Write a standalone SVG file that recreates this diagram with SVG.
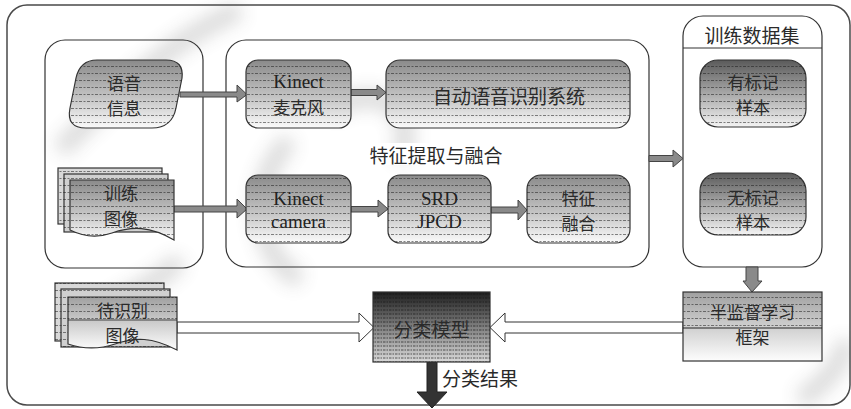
<svg xmlns="http://www.w3.org/2000/svg" width="851" height="409" viewBox="0 0 851 409">
<defs>
<linearGradient id="g1" x1="0" y1="0" x2="0" y2="1">
<stop offset="0" stop-color="#8a8a8a"/><stop offset="0.55" stop-color="#c4c4c4"/><stop offset="1" stop-color="#fbfbfb"/>
</linearGradient>
<linearGradient id="g2" x1="0" y1="0" x2="0" y2="1">
<stop offset="0" stop-color="#5a5a5a"/><stop offset="0.5" stop-color="#a8a8a8"/><stop offset="1" stop-color="#f4f4f4"/>
</linearGradient>
<linearGradient id="g3" x1="0" y1="0" x2="0" y2="1">
<stop offset="0" stop-color="#1e1e1e"/><stop offset="0.5" stop-color="#808080"/><stop offset="1" stop-color="#d8d8d8"/>
</linearGradient>
<linearGradient id="g4" x1="0" y1="0" x2="0" y2="1">
<stop offset="0" stop-color="#a0a0a0"/><stop offset="1" stop-color="#fdfdfd"/>
</linearGradient>
<pattern id="lines" width="8" height="7" patternUnits="userSpaceOnUse">
<line x1="0" y1="3.5" x2="8" y2="3.5" stroke="#1a1a1a" stroke-width="0.7" stroke-dasharray="2 1.5"/>
</pattern>
<pattern id="lines2" width="6" height="4" patternUnits="userSpaceOnUse">
<line x1="0" y1="2" x2="6" y2="2" stroke="#111" stroke-width="0.8" stroke-dasharray="1.5 1"/>
</pattern>
<filter id="blur" x="-50%" y="-50%" width="200%" height="200%"><feGaussianBlur stdDeviation="9"/></filter>
<style>
.frame{fill:none;stroke:#4a4a4a;stroke-width:1.5}
.box{fill:none;stroke:#333;stroke-width:1.2}
.node{stroke:#333;stroke-width:1.2}
.tex{fill:url(#lines);stroke:none;opacity:0.75}
.t{font-family:"Liberation Serif","Noto Sans CJK SC",serif;font-size:19px;fill:#222;text-anchor:middle;dominant-baseline:central}
.c{font-family:"Noto Sans CJK SC","Liberation Sans",sans-serif;font-size:17px;fill:#2a2a2a;text-anchor:middle;dominant-baseline:central}
.big{font-size:19px}
.arr{fill:#8a8a8a;stroke:#444;stroke-width:1}
.hol{fill:#fff;stroke:#333;stroke-width:1}
.dark{fill:#333;stroke:#222;stroke-width:1}
</style>
</defs>
<rect width="851" height="409" fill="#fff"/>
<g id="watermark" opacity="0.22" filter="url(#blur)" fill="none" stroke="#555" stroke-width="18">
<path d="M60,150 C120,90 170,40 240,10"/>
<path d="M290,140 C250,180 250,250 300,280"/>
<path d="M330,110 C380,80 420,110 400,160"/>
<path d="M80,330 C110,300 150,290 180,260"/>
<path d="M800,400 C830,380 845,360 845,340"/>
</g>
<rect class="frame" x="7" y="5" width="843" height="400" rx="20"/>
<g id="input-box"><rect class="box" x="45" y="40" width="158" height="228" rx="20"/></g>
<g id="feature-box">
<rect class="box" x="226" y="40" width="423" height="227" rx="20"/>
<rect x="362" y="143" width="148" height="22" fill="#fff"/>
<text class="c big" x="436" y="154">特征提取与融合</text>
</g>
<g id="dataset-box">
<rect class="box" x="683" y="16" width="139" height="251" rx="20"/>
<line x1="683" y1="48" x2="822" y2="48" stroke="#333" stroke-width="1.2"/>
<text class="c big" x="752" y="34">训练数据集</text>
</g>
<g id="connectors">
<polygon class="arr" points="180,92 237,92 237,85 247,94.5 237,102 237,97 180,97"/>
<polygon class="arr" points="174,206 237,206 237,199 247,209 237,218 237,212 174,212"/>
<polygon class="arr" points="351,89.5 377,89.5 377,85 386,92.5 377,100 377,95.5 351,95.5"/>
<polygon class="arr" points="351,206.5 378,206.5 378,200 388,209 378,217 378,212 351,212"/>
<polygon class="arr" points="491,207 518,207 518,200 527,210 518,220 518,213 491,213"/>
<polygon class="arr" points="649,155.5 673,155.5 673,150 683,158.5 673,167 673,161.5 649,161.5"/>
<polygon class="arr" points="746,267 758,267 758,281 762,281 752,292 743,281 746,281"/>
<polygon class="hol" points="177,322 359,322 359,313 374,327.5 359,342 359,333 177,333"/>
<polygon class="hol" points="683,322 505,322 505,313 490,327.5 505,342 505,333 683,333"/>
<polygon class="dark" points="427,362 437,362 437,392 447,392 432,408 417,392 427,392"/>
<text class="c big" x="480" y="377">分类结果</text>
</g>
<g id="speech">
<path class="node" fill="url(#g1)" d="M97,60 L166,60 Q184,60 182,78 L176,108 Q172,128 152,128 L86,128 Q66,128 70,108 L76,78 Q80,60 97,60 Z"/>
<path class="tex" d="M97,60 L166,60 Q184,60 182,78 L176,108 Q172,128 152,128 L86,128 Q66,128 70,108 L76,78 Q80,60 97,60 Z"/>
<text class="c" x="124" y="82">语音</text>
<text class="c" x="124" y="107">信息</text>
</g>
<g id="train-images">
<rect class="node" fill="#d8d8d8" x="58" y="168" width="104" height="56"/>
<rect class="tex" x="58" y="168" width="104" height="56"/>
<rect class="node" fill="#d0d0d0" x="64" y="174" width="104" height="58"/>
<rect class="tex" x="64" y="174" width="104" height="58"/>
<path class="node" fill="url(#g1)" d="M70,180 L174,180 L174,240 C150,226 132,226 112,233 C95,239 82,236 70,230 Z"/>
<path class="tex" d="M70,180 L174,180 L174,240 C150,226 132,226 112,233 C95,239 82,236 70,230 Z"/>
<text class="c" x="121" y="192">训练</text>
<text class="c" x="121" y="217">图像</text>
</g>
<g id="kinect-mic">
<rect class="node" fill="url(#g1)" x="246" y="60" width="105" height="68" rx="12"/>
<rect class="tex" x="246" y="60" width="105" height="68" rx="12"/>
<text class="t" x="298.5" y="81">Kinect</text>
<text class="c" x="298.5" y="106">麦克风</text>
</g>
<g id="asr">
<rect class="node" fill="url(#g1)" x="386" y="60" width="244" height="68" rx="14"/>
<rect class="tex" x="386" y="60" width="244" height="68" rx="14"/>
<text class="c big" x="509" y="95">自动语音识别系统</text>
</g>
<g id="kinect-camera">
<rect class="node" fill="url(#g1)" x="246" y="175" width="105" height="68" rx="12"/>
<rect class="tex" x="246" y="175" width="105" height="68" rx="12"/>
<text class="t" x="298.5" y="198">Kinect</text>
<text class="t" x="298.5" y="221">camera</text>
</g>
<g id="srd-jpcd">
<rect class="node" fill="url(#g1)" x="388" y="175" width="103" height="68" rx="12"/>
<rect class="tex" x="388" y="175" width="103" height="68" rx="12"/>
<text class="t" x="439.5" y="198">SRD</text>
<text class="t" x="439.5" y="221">JPCD</text>
</g>
<g id="fusion">
<rect class="node" fill="url(#g1)" x="527" y="175" width="103" height="68" rx="14"/>
<rect class="tex" x="527" y="175" width="103" height="68" rx="14"/>
<text class="c" x="578.5" y="197">特征</text>
<text class="c" x="578.5" y="222">融合</text>
</g>
<g id="labeled">
<rect class="node" fill="url(#g2)" x="700" y="60" width="106" height="67" rx="18"/>
<rect class="tex" x="700" y="60" width="106" height="67" rx="18"/>
<text class="c" x="753" y="81">有标记</text>
<text class="c" x="753" y="106">样本</text>
</g>
<g id="unlabeled">
<rect class="node" fill="url(#g2)" x="700" y="173" width="106" height="62" rx="18"/>
<rect class="tex" x="700" y="173" width="106" height="62" rx="18"/>
<text class="c" x="753" y="196">无标记</text>
<text class="c" x="753" y="221">样本</text>
</g>
<g id="semi-supervised">
<rect class="node" fill="url(#g4)" x="683" y="292" width="139" height="69"/>
<rect class="tex" x="683" y="292" width="139" height="36"/>
<line x1="683" y1="328" x2="822" y2="328" stroke="#222" stroke-width="1"/>
<text class="c" x="752.5" y="311">半监督学习</text>
<text class="c" x="752.5" y="336">框架</text>
</g>
<g id="test-images">
<rect class="node" fill="#d8d8d8" x="55" y="283" width="109" height="58"/>
<rect class="tex" x="55" y="283" width="109" height="58"/>
<rect class="node" fill="#d0d0d0" x="61" y="289" width="109" height="58"/>
<rect class="tex" x="61" y="289" width="109" height="58"/>
<path class="node" fill="url(#g4)" d="M68,297 L177,297 L177,350 C152,337 135,337 115,344 C97,350 83,349 68,344 Z"/>
<path class="tex" d="M68,297 L177,297 L177,320 L68,320 Z"/>
<line x1="68" y1="320" x2="177" y2="320" stroke="#222" stroke-width="0.8"/>
<text class="c" x="122.5" y="309">待识别</text>
<text class="c" x="122.5" y="334">图像</text>
</g>
<g id="classifier">
<rect class="node" fill="url(#g3)" x="373" y="292" width="117" height="70"/>
<rect fill="url(#lines2)" opacity="0.8" x="373" y="292" width="117" height="70"/>
<text class="c big" x="431.5" y="328">分类模型</text>
</g>
</svg>
